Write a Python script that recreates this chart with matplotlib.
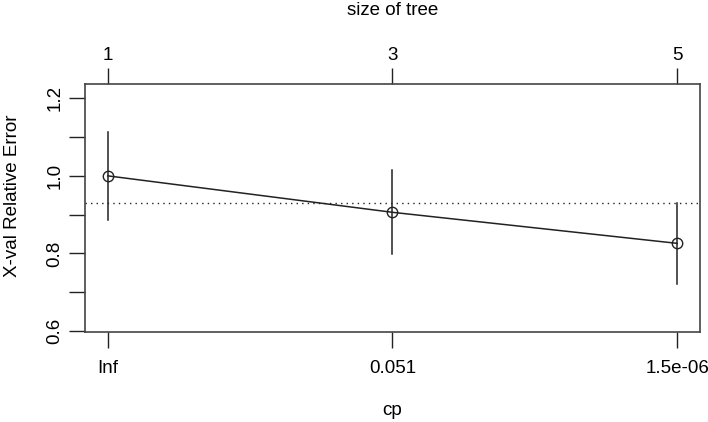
import matplotlib.pyplot as plt

plt.rcParams['font.family'] = ['Liberation Sans', 'DejaVu Sans']

cp_labels = ["Inf", "0.051", "1.5e-06"]
tree_sizes = ["1", "3", "5"]
xerror = [1.0, 0.906, 0.826]
xstd = [0.113, 0.108, 0.105]

pos = [1, 2, 3]
threshold = min(xerror) + xstd[xerror.index(min(xerror))]

fig = plt.figure(figsize=(7.08, 4.22), dpi=100)
ax = fig.add_axes([85/708, 1 - 332/422, 615/708, (332 - 84.3)/422])

lc = '#222222'
for x, m, s in zip(pos, xerror, xstd):
    ax.plot([x, x], [m - s, m + s], color=lc, lw=1.1)
ax.plot(pos, xerror, color=lc, lw=1.1, marker='o', markersize=7.5,
        markerfacecolor='none', markeredgecolor=lc, markeredgewidth=1.0)
ax.axhline(threshold, color=lc, lw=1.0, linestyle=(0, (1, 3)))

ax.set_xlim(0.92, 3.08)
ax.set_ylim(0.5975, 1.236)

fs = 13.5
ax.set_xticks(pos)
ax.set_xticklabels(cp_labels, fontsize=fs)
yt = [0.6, 0.7, 0.8, 0.9, 1.0, 1.1, 1.2]
ax.set_yticks(yt)
ax.set_yticklabels([f"{v:.1f}" if i % 2 == 0 else "" for i, v in enumerate(yt)],
                   fontsize=fs, rotation=90, va='center')
ax.tick_params(axis='both', direction='out', length=11.5, width=1.0, color=lc)
ax.tick_params(axis='x', pad=9)
ax.tick_params(axis='y', pad=4)

for sp in ax.spines.values():
    sp.set_color('#444444')
    sp.set_linewidth(1.2)

top = ax.secondary_xaxis('top')
top.set_xticks(pos)
top.set_xticklabels(tree_sizes, fontsize=fs)
top.tick_params(direction='out', length=11.5, width=1.0, color=lc, pad=3)
top.spines['top'].set_visible(False)
top.set_xlabel("size of tree", fontsize=fs, labelpad=23)

ax.set_xlabel("cp", fontsize=fs, labelpad=18)
ax.set_ylabel("X-val Relative Error", fontsize=fs)
ax.yaxis.set_label_coords(-0.104, 0.55)

fig.savefig("out.png", dpi=100)
